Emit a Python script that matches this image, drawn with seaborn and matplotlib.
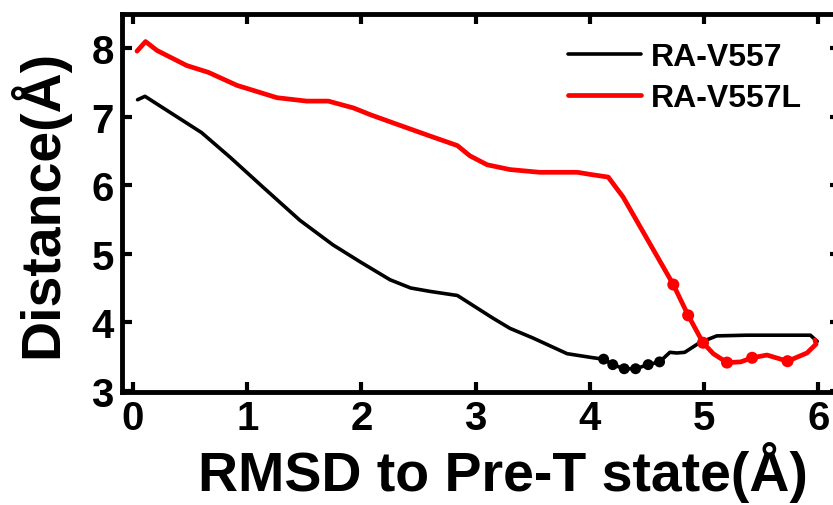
import matplotlib
matplotlib.use("Agg")
import matplotlib.pyplot as plt
from matplotlib import font_manager
import seaborn as sns
import pandas as pd

# RA-V557 distance profile along the RMSD coordinate
v557_rmsd = [0.04, 0.105, 0.60, 0.85, 1.14, 1.46, 1.75, 1.99, 2.08, 2.25, 2.43, 2.60,
             2.84, 3.15, 3.30, 3.50, 3.80, 4.03, 4.12, 4.20, 4.30, 4.40, 4.51, 4.61,
             4.70, 4.76, 4.83, 4.96, 5.11, 5.37, 5.93, 5.99]
v557_dist = [7.25, 7.30, 6.77, 6.41, 5.97, 5.49, 5.13, 4.88, 4.79, 4.62, 4.50, 4.45,
             4.39, 4.06, 3.91, 3.77, 3.54, 3.48, 3.46, 3.38, 3.32, 3.32, 3.38, 3.42,
             3.56, 3.55, 3.56, 3.70, 3.80, 3.81, 3.81, 3.72]
v557_dot_rmsd = [4.12, 4.20, 4.30, 4.40, 4.51, 4.61]
v557_dot_dist = [3.46, 3.38, 3.32, 3.32, 3.38, 3.42]

# RA-V557L distance profile along the RMSD coordinate
v557l_rmsd = [0.035, 0.11, 0.21, 0.47, 0.66, 0.91, 1.26, 1.52, 1.71, 1.93, 2.08, 2.28,
              2.60, 2.84, 2.95, 3.10, 3.30, 3.56, 3.89, 4.00, 4.16, 4.29, 4.73, 4.86,
              4.99, 5.08, 5.20, 5.32, 5.42, 5.55, 5.73, 5.90, 5.98, 5.97]
v557l_dist = [7.96, 8.10, 7.97, 7.75, 7.65, 7.46, 7.28, 7.23, 7.23, 7.13, 7.03, 6.91,
              6.72, 6.58, 6.43, 6.30, 6.23, 6.19, 6.19, 6.16, 6.12, 5.83, 4.55, 4.10,
              3.70, 3.54, 3.41, 3.42, 3.48, 3.52, 3.43, 3.55, 3.68, 3.74]
v557l_dot_rmsd = [4.73, 4.86, 4.99, 5.20, 5.42, 5.73]
v557l_dot_dist = [4.55, 4.10, 3.70, 3.41, 3.48, 3.43]

x_ticks = [0, 1, 2, 3, 4, 5, 6]
y_ticks = [3, 4, 5, 6, 7, 8]

sns.set_theme(style="ticks")
names = {f.name for f in font_manager.fontManager.ttflist}
family = "Liberation Sans Narrow" if "Liberation Sans Narrow" in names else "Liberation Sans"
plt.rcParams["font.family"] = [family, "DejaVu Sans"]
plt.rcParams.update({
    "font.weight": "bold",
    "text.color": "black",
    "axes.labelcolor": "black",
    "axes.edgecolor": "black",
    "xtick.color": "black",
    "ytick.color": "black",
})

fig = plt.figure(figsize=(8.33, 5.06), dpi=100)
ax = fig.add_axes([0.1465, 0.2233, 0.862, 0.7467])

df_a = pd.DataFrame({"rmsd": v557_rmsd, "dist": v557_dist})
df_b = pd.DataFrame({"rmsd": v557l_rmsd, "dist": v557l_dist})

sns.lineplot(data=df_a, x="rmsd", y="dist", sort=False, estimator=None,
             color="black", lw=2.6, label="RA-V557", ax=ax)
sns.lineplot(data=df_b, x="rmsd", y="dist", sort=False, estimator=None,
             color="#ff0000", lw=3.4, label="RA-V557L", ax=ax)
sns.scatterplot(x=v557_dot_rmsd, y=v557_dot_dist, color="black", s=62,
                edgecolor="none", ax=ax, legend=False, zorder=3)
sns.scatterplot(x=v557l_dot_rmsd, y=v557l_dot_dist, color="#ff0000", s=75,
                edgecolor="none", ax=ax, legend=False, zorder=3)

ax.set_xlim(-0.096, 6.19)
ax.set_ylim(2.98, 8.5)
ax.set_xticks(x_ticks)
ax.set_yticks(y_ticks)
ax.tick_params(direction="in", length=7, width=3, labelsize=29, pad=6,
               top=True, right=True)
ax.tick_params(axis="x", pad=5)
for lab in ax.get_xticklabels() + ax.get_yticklabels():
    lab.set_fontweight("bold")
for sp in ax.spines.values():
    sp.set_linewidth(3.5)
    sp.set_visible(True)

ax.set_xlabel("RMSD to Pre-T state(Å)", fontsize=40, fontweight="bold")
ax.xaxis.set_label_coords(0.53, -0.13)
ax.set_ylabel("Distance(Å)", fontsize=40, fontweight="bold", labelpad=16)

leg = ax.legend(loc="upper right", frameon=False, fontsize=23, handlelength=2.3,
                handletextpad=0.3, borderaxespad=0.3,
                bbox_to_anchor=(0.978, 0.985), labelspacing=0.35)
for t in leg.get_texts():
    t.set_fontweight("bold")

fig.savefig("out.png", dpi=100)
